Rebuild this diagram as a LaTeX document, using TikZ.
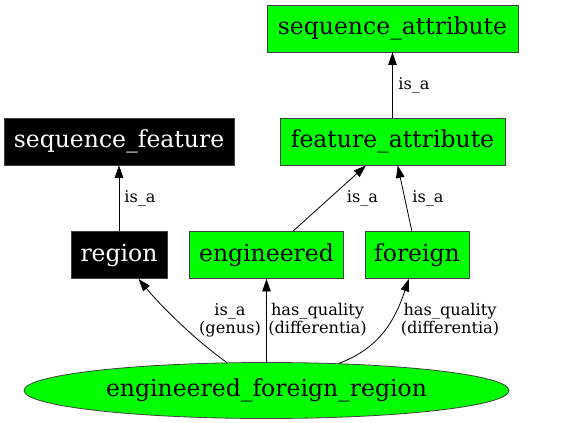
\documentclass[tikz,border=0pt]{standalone}
\usepackage{fontspec}
\setmainfont{DejaVu Serif}
\usetikzlibrary{arrows.meta,positioning,shapes.geometric}
\definecolor{termgreen}{HTML}{00FF00}

\begin{document}
\begin{tikzpicture}[x=1pt,y=-1pt,>={Triangle[length=12.5pt,width=8.5pt]},
  term/.style={draw=black!75,line width=0.8pt,fill=termgreen,inner sep=2pt,
    minimum height=47pt,font=\fontsize{23.5}{26}\selectfont},
  rootterm/.style={term,fill=black,text=white},
  rel/.style={font=\fontsize{16.2}{18}\selectfont,align=center,inner sep=0pt},
  link/.style={->,line width=0.8pt}]
  \useasboundingbox (0,0) rectangle (576,423);
  \node[term,minimum width=251pt] (SA) at (392.5,28.5) {sequence\_attribute};
  \node[term,minimum width=225pt] (FA) at (392.5,141.5) {feature\_attribute};
  \node[rootterm,minimum width=230pt] (SF) at (119,141.5) {sequence\_feature};
  \node[rootterm,minimum width=96pt] (REG) at (119,255) {region};
  \node[term,minimum width=154pt] (ENG) at (266.5,255) {engineered};
  \node[term,minimum width=104pt] (FOR) at (417,255) {foreign};
  \node[term,ellipse,inner sep=0pt,minimum width=485pt,minimum height=56pt] (EFR) at (266.5,390.5) {engineered\_foreign\_region};
  \draw[link] (FA) -- (SA) node[rel] at (414,85) {is\_a};
  \draw[link] (REG) -- (SF) node[rel] at (140,198) {is\_a};
  \draw[link] (ENG) -- (FA) node[rel] at (362.5,198) {is\_a};
  \draw[link] (FOR) -- (FA) node[rel] at (428,198) {is\_a};
  \draw[link] (EFR) .. controls (195,340) and (160,305) .. (REG) node[rel] at (230,320) {is\_a\\(genus)};
  \draw[link] (EFR) -- (ENG) node[rel] at (317.5,320) {has\_quality\\(differentia)};
  \draw[link] (EFR) .. controls (380,348) and (395,320) .. (FOR) node[rel] at (450,320) {has\_quality\\(differentia)};
\end{tikzpicture}
\end{document}
